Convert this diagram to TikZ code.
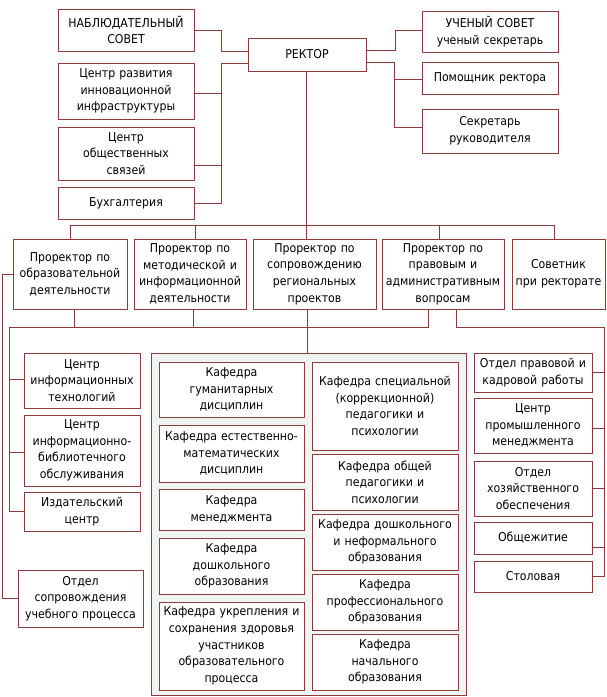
\documentclass[tikz,border=0pt]{standalone}
\usepackage{fontspec}
\setmainfont{DejaVu Sans Condensed}
\usetikzlibrary{calc}
\definecolor{lc}{HTML}{8E3B3B}
\definecolor{kfill}{HTML}{F0F4F2}
\tikzset{
  box/.style={draw=lc, line width=0.9pt, fill=white, inner sep=0pt, align=center,
    font=\fontsize{12.2}{16.6}\selectfont},
  conn/.style={draw=lc, line width=0.9pt},
}
\newcommand\bx[6]{%
  \pgfmathsetmacro\bxw{#4-#2}%
  \pgfmathsetmacro\bxh{#5-#3}%
  \pgfmathsetmacro\bxtw{#4-#2-2}%
  \pgfmathsetmacro\bxcx{(#2+#4)/2}%
  \pgfmathsetmacro\bxcy{-(#3+#5)/2}%
  \node[box, minimum width=\bxw pt, minimum height=\bxh pt, text width=\bxtw pt] (#1) at (\bxcx pt,\bxcy pt) {#6};%
}
\begin{document}
\begin{tikzpicture}[x=1pt,y=1pt]
\useasboundingbox (0,0) rectangle (607,-697);
% container of departments
\draw[draw=lc, line width=0.9pt, fill=kfill] (151,-353) rectangle (466,-695);
\node[inner sep=0pt, minimum width=315pt, minimum height=342pt] (kaf) at (308.5,-524) {};
% top
\bx{nab}{58}{9}{194}{51}{НАБЛЮДАТЕЛЬНЫЙ\\СОВЕТ}
\bx{rec}{248}{38}{366}{71}{РЕКТОР}
\bx{cr}{58}{63}{194}{119}{Центр развития\\инновационной\\инфраструктуры}
\bx{cos}{58}{127}{194}{180}{Центр\\общественных\\связей}
\bx{buh}{58}{187}{194}{219}{Бухгалтерия}
\bx{us}{422}{11}{558}{52}{УЧЕНЫЙ СОВЕТ\\ученый секретарь}
\bx{pom}{422}{62}{558}{94}{Помощник ректора}
\bx{sec}{422}{109}{558}{153}{Секретарь\\руководителя}
% prorectors
\bx{pr1}{13}{239}{127}{309}{Проректор по\\образовательной\\деятельности}
\bx{pr2}{134}{239}{246}{309}{Проректор по\\методической и\\информационной\\деятельности}
\bx{pr3}{253}{239}{376}{309}{Проректор по\\сопровождению\\региональных\\проектов}
\bx{pr4}{382}{239}{504}{309}{Проректор по\\правовым и\\административным\\вопросам}
\bx{pr5}{512}{239}{605}{309}{Советник\\при ректорате}
% left column
\bx{cit}{24}{353}{140}{408}{Центр\\информационных\\технологий}
\bx{cibo}{24}{415}{140}{486}{Центр\\информационно-\\библиотечного\\обслуживания}
\bx{izd}{24}{492}{140}{531}{Издательский\\центр}
\bx{osup}{18}{570}{143}{627}{Отдел\\сопровождения\\учебного процесса}
% departments left
\bx{k1}{159}{362}{304}{417}{Кафедра\\гуманитарных\\дисциплин}
\bx{k2}{159}{425}{304}{482}{Кафедра естественно-\\математических\\дисциплин}
\bx{k3}{159}{489}{304}{530}{Кафедра\\менеджмента}
\bx{k4}{159}{538}{304}{594}{Кафедра\\дошкольного\\образования}
\bx{k5}{159}{602}{304}{690}{Кафедра укрепления и\\сохранения здоровья\\участников\\образовательного\\процесса}
% departments right
\bx{k6}{312}{362}{458}{450}{Кафедра специальной\\(коррекционной)\\педагогики и\\психологии}
\bx{k7}{312}{454}{458}{510}{Кафедра общей\\педагогики и\\психологии}
\bx{k8}{312}{514}{458}{570}{Кафедра дошкольного\\и неформального\\образования}
\bx{k9}{312}{574}{458}{630}{Кафедра\\профессионального\\образования}
\bx{k10}{312}{634}{458}{690}{Кафедра\\начального\\образования}
% right column
\bx{opr}{474}{353}{592}{392}{Отдел правовой и\\кадровой работы}
\bx{cpm}{474}{398}{592}{453}{Центр\\промышленного\\менеджмента}
\bx{oxo}{474}{461}{592}{516}{Отдел\\хозяйственного\\обеспечения}
\bx{obsh}{474}{522}{592}{554}{Общежитие}
\bx{stol}{474}{561}{592}{592}{Столовая}
% connectors top-left
\draw[conn] (nab.east) -- ++(27,0) |- ([yshift=3.5pt]rec.west);
\draw[conn] ([yshift=-8.5pt]rec.west) -| ($(buh.east)+(27,0)$) -- (buh.east);
\draw[conn] ([yshift=-2pt]cr.east) -- ++(27,0);
\draw[conn] ([yshift=-12pt]cos.east) -- ++(27,0);
% connectors top-right
\draw[conn] ([yshift=4.5pt]rec.east) -- ++(29,0) |- ([yshift=1.5pt]us.west);
\draw[conn] ([yshift=-7.5pt]rec.east) -| ($(sec.west)+(-27,4)$) -- ([yshift=4pt]sec.west);
\draw[conn] ([yshift=-1pt]pom.west) -- ++(-27,0);
% rector to prorectors
\draw[conn] ([xshift=-1pt]rec.south) -- ([xshift=-1pt]rec.south |- pr3.north);
\draw[conn] (pr1.north) -- ++(0,13) -| ([xshift=-4.5pt]pr5.north);
\draw[conn] ([xshift=5pt]pr2.north) -- ++(0,13);
\draw[conn] ([xshift=-4pt]pr4.north) -- ++(0,13);
% lower bus
\draw[conn] ([xshift=-15pt]pr4.south) |- ++(-419,-18) |- (izd.west);
\draw[conn] ([xshift=4pt]pr1.south) -- ++(0,-18);
\draw[conn] ([xshift=3pt]pr2.south) -- ++(0,-18);
\draw[conn] ([xshift=-7pt]pr3.south) -- ([xshift=-7pt]pr3.south |- kaf.north);
\draw[conn] ([yshift=1.5pt]cit.west) -- ++(-15,0);
\draw[conn] ([yshift=-1.5pt]cibo.west) -- ++(-15,0);
\draw[conn] (pr1.west) -- ++(-10,0) |- (osup.west);
% right bus
\draw[conn] ([xshift=13pt]pr4.south) |- ++(148,-18) |- (stol.east);
\draw[conn] (opr.east) -- ++(12,0);
\draw[conn] ([yshift=-2.5pt]cpm.east) -- ++(12,0);
\draw[conn] (oxo.east) -- ++(12,0);
\draw[conn] ([yshift=-9pt]obsh.east) -- ++(12,0);
\end{tikzpicture}
\end{document}
